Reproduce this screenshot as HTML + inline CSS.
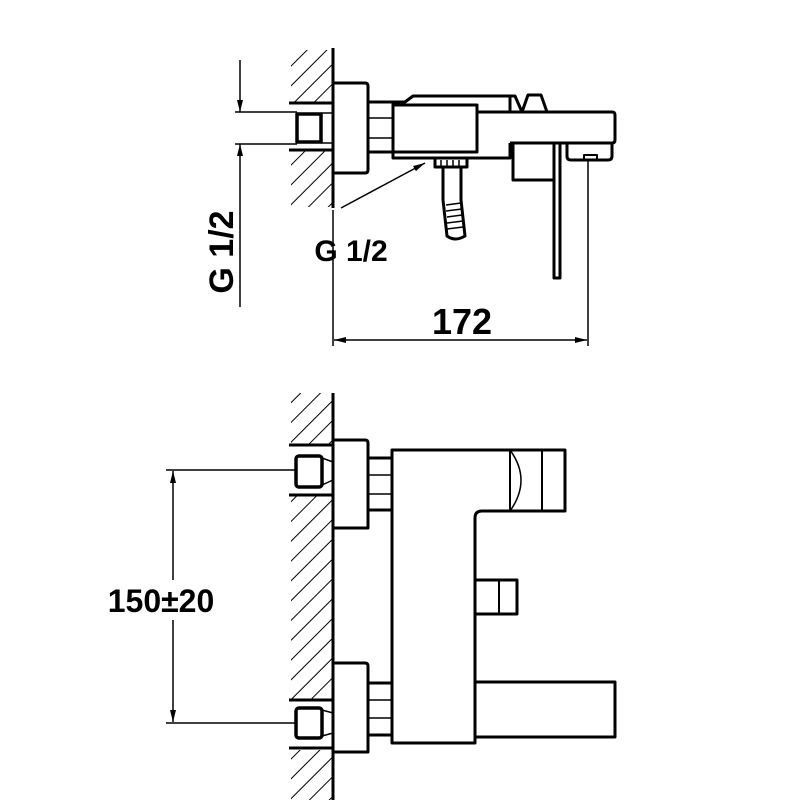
<!DOCTYPE html>
<html><head><style>html,body{margin:0;padding:0;background:#fff}svg{display:block}</style></head>
<body>
<svg width="800" height="800" viewBox="0 0 800 800" xmlns="http://www.w3.org/2000/svg">
<defs>
<pattern id="h" patternUnits="userSpaceOnUse" width="14" height="14" patternTransform="rotate(45)">
<line x1="0" y1="0" x2="0" y2="14" stroke="#000" stroke-width="2"/>
</pattern>
<marker id="a" viewBox="0 0 10 10" refX="10" refY="5" markerWidth="12" markerHeight="12" orient="auto-start-reverse" markerUnits="userSpaceOnUse">
<path d="M0,2.5 L10,5 L0,7.5 z" fill="#000"/>
</marker>
</defs>
<g fill="none" stroke="#000" stroke-width="3" stroke-linejoin="round">
<rect x="291" y="50" width="42" height="52" fill="url(#h)" stroke="none"/>
<rect x="291" y="151" width="42" height="56" fill="url(#h)" stroke="none"/>
<line x1="333" y1="48" x2="333" y2="208"/>
<line x1="289" y1="103" x2="333" y2="103"/>
<line x1="289" y1="150" x2="333" y2="150"/>
<rect x="297" y="114" width="24" height="28" stroke-width="3.5"/>
<line x1="321" y1="113" x2="333" y2="113" stroke-width="1.5"/>
<line x1="321" y1="143" x2="333" y2="143" stroke-width="1.5"/>
<path d="M333,83 H365 Q368,83 368,86 V170 Q368,173 365,173 H333"/>
<path d="M368,102 H393 M368,152 H393" />
<path d="M368,118 H393 M368,138 H393" stroke-width="1.5"/>
<path d="M393,102 V158 H510 V143"/>
<path d="M380,102 H405 L413,96 H510 V112"/>
<rect x="393" y="105" width="84" height="47"/>
<path d="M477,112 H612 Q615,112 615,115 V140 Q615,143 612,143 H510"/>
<path d="M510,96 L515,96 L522,112"/>
<path d="M522,112 L528,95 H541 L547,112"/>
<path d="M435,159 V167 H467 V159"/>
<path d="M441,160 V167 M447,160 V167 M453,160 V167 M459,160 V167" stroke-width="1.5"/>
<path d="M443,167 V200 L447,236 Q455,242 465,236 L461,200 V167"/>
<path d="M446,205 L461,203 M446,211 L462,209 M447,217 L462,215 M447,223 L463,221 M447,229 L463,227" stroke-width="1.5"/>
<path d="M513,143 V180 H554"/>
<path d="M554,143 V278 H560 V143"/>
<path d="M567,143 V156 Q567,160 571,160 H608 Q612,160 612,156 V143"/>
<path d="M584,160 V155 H597 V160" stroke-width="2"/>
<g stroke-width="1.5">
<line x1="235" y1="112" x2="297" y2="112"/>
<line x1="235" y1="144" x2="297" y2="144"/>
<line x1="240" y1="60" x2="240" y2="112" marker-end="url(#a)"/>
<line x1="240" y1="307" x2="240" y2="144" marker-end="url(#a)"/>
<line x1="333" y1="210" x2="333" y2="346"/>
<line x1="588" y1="160" x2="588" y2="346"/>
<line x1="334" y1="340" x2="587" y2="340" marker-start="url(#a)" marker-end="url(#a)"/>
<line x1="341" y1="208" x2="425" y2="163" marker-end="url(#a)"/>
</g>
<rect x="291" y="393" width="42" height="51" fill="url(#h)" stroke="none"/>
<rect x="291" y="496" width="42" height="204" fill="url(#h)" stroke="none"/>
<rect x="291" y="750" width="42" height="50" fill="url(#h)" stroke="none"/>
<line x1="333" y1="393" x2="333" y2="800"/>
<line x1="289" y1="445" x2="333" y2="445"/>
<line x1="289" y1="495" x2="333" y2="495"/>
<line x1="289" y1="700" x2="333" y2="700"/>
<line x1="289" y1="748" x2="333" y2="748"/>
<rect x="296" y="456" width="26" height="31" rx="3" stroke-width="3.5"/>
<rect x="296" y="708" width="26" height="30" rx="3" stroke-width="3.5"/>
<path d="M322,458 L333,462 M322,485 L333,480 M322,710 L333,713 M322,736 L333,733" stroke-width="1.5"/>
<path d="M333,440 H365 Q368,440 368,443 V528 H333"/>
<path d="M333,663 H365 Q368,663 368,666 V752 H333"/>
<path d="M368,458 H392 M368,510 H392 M368,683 H392 M368,735 H392"/>
<path d="M368,475 H392 M368,494 H392 M368,700 H392 M368,718 H392" stroke-width="1.5"/>
<path d="M392,450 H565 V511 H482 Q475,511 475,518 V743 H392 Z"/>
<path d="M510,450 V511 M542,450 V511" stroke-width="2"/>
<path d="M510,450 Q532,480 510,511" stroke-width="1.5"/>
<rect x="475" y="580" width="42" height="34"/>
<line x1="499" y1="580" x2="499" y2="614" stroke-width="2"/>
<rect x="475" y="682" width="140" height="55"/>
<g stroke-width="1.5">
<line x1="166" y1="470" x2="297" y2="470"/>
<line x1="166" y1="723" x2="297" y2="723"/>
<line x1="173" y1="580" x2="173" y2="471" marker-end="url(#a)"/>
<line x1="173" y1="620" x2="173" y2="722" marker-end="url(#a)"/>
</g>
</g>
<g font-family="Liberation Sans, sans-serif" font-weight="bold" fill="#000">
<text x="222" y="252" font-size="34" text-anchor="middle" dominant-baseline="central" transform="rotate(-90 222 252)">G 1/2</text>
<text x="351" y="261" font-size="30" text-anchor="middle">G 1/2</text>
<text x="462" y="334" font-size="36" text-anchor="middle">172</text>
<text x="161" y="612" font-size="32" text-anchor="middle">150±20</text>
</g>
</svg>
</body></html>
